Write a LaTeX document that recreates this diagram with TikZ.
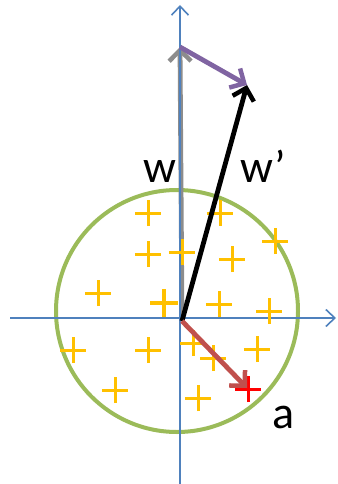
\documentclass[tikz,border=0pt]{standalone}
\usepackage{fontspec}
\setmainfont{Carlito}
\usetikzlibrary{arrows.meta,shapes.misc}
\definecolor{axisblue}{HTML}{4F81BD}
\definecolor{circgreen}{HTML}{9BBB59}
\definecolor{plusyellow}{HTML}{FFC000}
\definecolor{vpurple}{HTML}{8064A2}
\definecolor{vred}{HTML}{C0504D}
\definecolor{vgray}{HTML}{8C8C8C}
\begin{document}
\begin{tikzpicture}[x=1pt,y=-1pt,
  axis/.style={axisblue, line width=1.8pt, -{Straight Barb[length=9pt,width=17pt,line width=1.6pt]}},
  vec/.style={line width=4.8pt, -{Straight Barb[length=11pt,width=22pt,line width=4.5pt]}},
  pl/.style={draw=plusyellow, line width=3pt, cross out, rotate=45, minimum size=15.5pt, inner sep=0pt},
  plred/.style={pl, draw=red},
  lbl/.style={font=\fontsize{46}{46}\selectfont, inner sep=0pt, anchor=base west}
]
\useasboundingbox (0,0) rectangle (337,484);
% circle
\node[draw=circgreen, line width=4pt, circle, minimum size=242pt, inner sep=0pt] (C) at (177,311) {};
% coordinates
\coordinate (O) at (182,321);
\coordinate (W) at (180,47);
\coordinate (Wp) at (247,85);
\coordinate (A) at (247,388);
\coordinate (xl) at (10,318);
\coordinate (xr) at (336,318);
\coordinate (yb) at (180,484);
\coordinate (yt) at (180,5);
% w vector (gray, under axis)
\draw[vgray, vec] (O) -- (W);
% axes
\draw[axis] (xl) -- (xr);
\draw[axis] (yb) -- (yt);
% pluses
\foreach \i/\x/\y in {1/148/213, 2/220/213, 3/275/241, 4/148/254, 5/182/252, 6/232/259,
  7/98/293, 8/164/303, 9/219/304, 10/269/311, 11/73/350, 12/148/350, 13/193/343,
  14/213/358, 15/257/349, 16/115/390, 17/198/398}
  \node[pl] (p\i) at (\x,\y) {};
\node[pl, line width=3.8pt] (p8b) at (164,303) {};
\node[plred] (pa) at (248,389) {};
% vectors
\draw[black, vec] (O) -- (Wp);
\draw[vpurple, vec] (W) -- (Wp);
\draw[vred, vec] (O) -- (A);
% labels
\node[lbl] (lw) at (143,182) {w};
\node[lbl] (lwp) at (240,182) {w’};
\node[lbl] (la) at (272,428) {a};
\end{tikzpicture}
\end{document}
